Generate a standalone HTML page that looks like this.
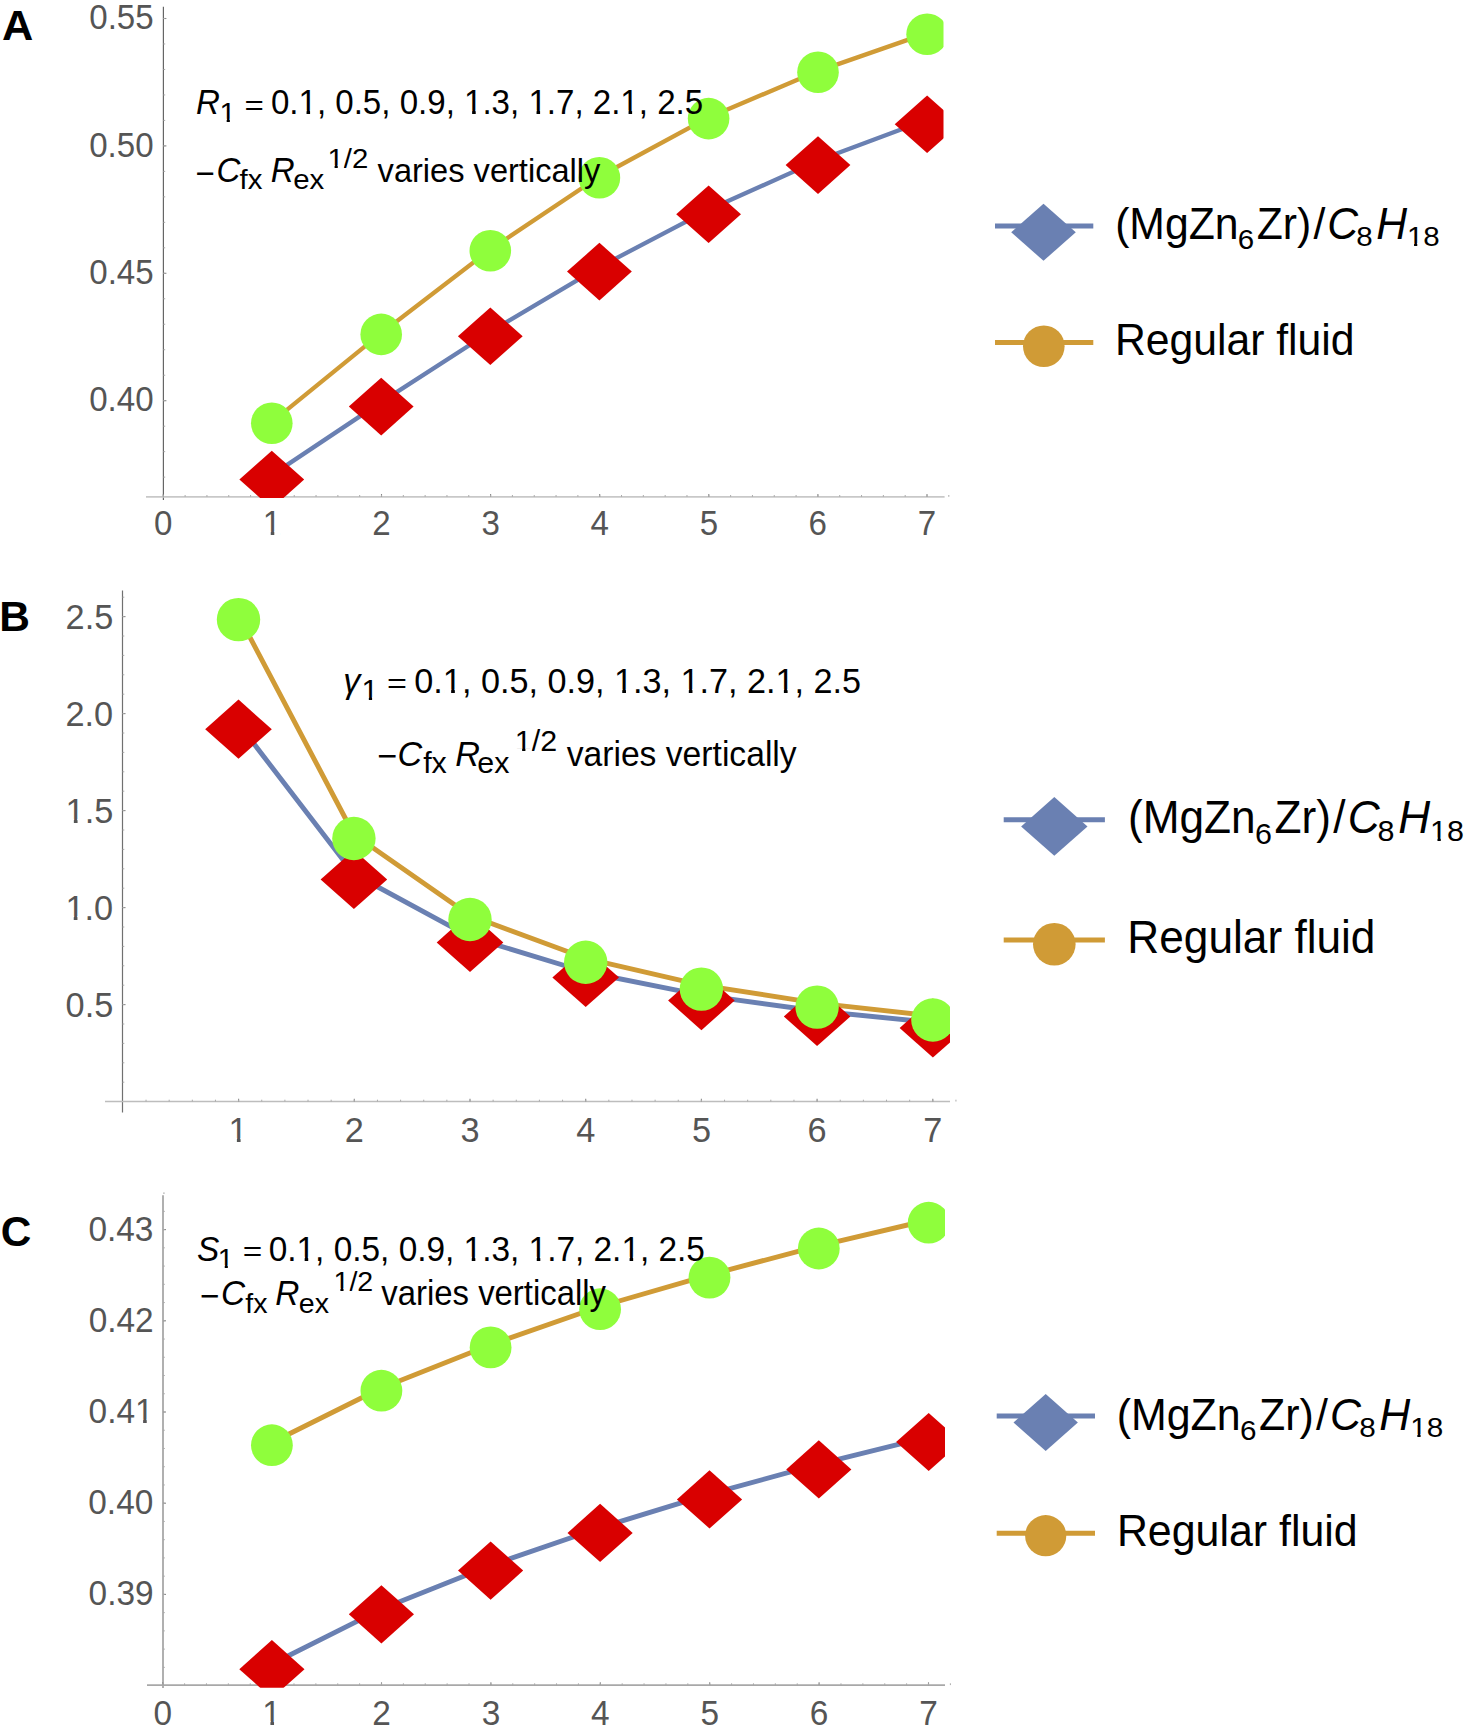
<!DOCTYPE html><html><head><meta charset="utf-8"><title>Figure</title><style>html,body{margin:0;padding:0;background:#fff;}svg{display:block;}</style></head><body><svg width="1470" height="1728" viewBox="0 0 1470 1728" font-family="'Liberation Sans', Arial, sans-serif">
<rect width="1470" height="1728" fill="#fff"/>
<line x1="163.4" y1="6.8" x2="163.4" y2="500" stroke="#666" stroke-width="1.2"/>
<line x1="146" y1="496.8" x2="944.6" y2="496.8" stroke="#c8c8c8" stroke-width="1.8"/>
<line x1="163.4" y1="400.7" x2="166.4" y2="400.7" stroke="#888" stroke-width="1.1"/>
<text transform="translate(89.17 411.3) scale(1 1.04)" font-size="33.1" fill="#555555">0.40</text>
<line x1="163.4" y1="273.3" x2="166.4" y2="273.3" stroke="#888" stroke-width="1.1"/>
<text transform="translate(89.27 283.9) scale(1 1.04)" font-size="33.1" fill="#555555">0.45</text>
<line x1="163.4" y1="145.9" x2="166.4" y2="145.9" stroke="#888" stroke-width="1.1"/>
<text transform="translate(89.17 156.5) scale(1 1.04)" font-size="33.1" fill="#555555">0.50</text>
<line x1="163.4" y1="18.5" x2="166.4" y2="18.5" stroke="#888" stroke-width="1.1"/>
<text transform="translate(89.27 29.1) scale(1 1.04)" font-size="33.1" fill="#555555">0.55</text>
<line x1="163.4" y1="477.14" x2="165.2" y2="477.14" stroke="#aaa" stroke-width="1"/>
<line x1="163.4" y1="451.66" x2="165.2" y2="451.66" stroke="#aaa" stroke-width="1"/>
<line x1="163.4" y1="426.18" x2="165.2" y2="426.18" stroke="#aaa" stroke-width="1"/>
<line x1="163.4" y1="400.7" x2="165.2" y2="400.7" stroke="#aaa" stroke-width="1"/>
<line x1="163.4" y1="375.22" x2="165.2" y2="375.22" stroke="#aaa" stroke-width="1"/>
<line x1="163.4" y1="349.74" x2="165.2" y2="349.74" stroke="#aaa" stroke-width="1"/>
<line x1="163.4" y1="324.26" x2="165.2" y2="324.26" stroke="#aaa" stroke-width="1"/>
<line x1="163.4" y1="298.78" x2="165.2" y2="298.78" stroke="#aaa" stroke-width="1"/>
<line x1="163.4" y1="273.3" x2="165.2" y2="273.3" stroke="#aaa" stroke-width="1"/>
<line x1="163.4" y1="247.82" x2="165.2" y2="247.82" stroke="#aaa" stroke-width="1"/>
<line x1="163.4" y1="222.34" x2="165.2" y2="222.34" stroke="#aaa" stroke-width="1"/>
<line x1="163.4" y1="196.86" x2="165.2" y2="196.86" stroke="#aaa" stroke-width="1"/>
<line x1="163.4" y1="171.38" x2="165.2" y2="171.38" stroke="#aaa" stroke-width="1"/>
<line x1="163.4" y1="145.9" x2="165.2" y2="145.9" stroke="#aaa" stroke-width="1"/>
<line x1="163.4" y1="120.42" x2="165.2" y2="120.42" stroke="#aaa" stroke-width="1"/>
<line x1="163.4" y1="94.94" x2="165.2" y2="94.94" stroke="#aaa" stroke-width="1"/>
<line x1="163.4" y1="69.46" x2="165.2" y2="69.46" stroke="#aaa" stroke-width="1"/>
<line x1="163.4" y1="43.98" x2="165.2" y2="43.98" stroke="#aaa" stroke-width="1"/>
<line x1="163.4" y1="18.5" x2="165.2" y2="18.5" stroke="#aaa" stroke-width="1"/>
<line x1="163.3" y1="496.8" x2="163.3" y2="494" stroke="#888" stroke-width="1.1"/>
<text transform="translate(154.1 535) scale(1 1.04)" font-size="33.1" fill="#555555">0</text>
<line x1="272.4" y1="496.8" x2="272.4" y2="494" stroke="#888" stroke-width="1.1"/>
<clipPath id="f1"><path clip-rule="evenodd" d="M-5 -39.72H23.41V16.55H-5ZM1.32 -3.47H8V1.5H1.32ZM11.57 -3.47H17.99V1.5H11.57Z"/></clipPath>
<text transform="translate(262.74 535) scale(1 1.04)" font-size="33.1" fill="#555555" clip-path="url(#f1)">1</text>
<line x1="381.5" y1="496.8" x2="381.5" y2="494" stroke="#888" stroke-width="1.1"/>
<text transform="translate(372.3 535) scale(1 1.04)" font-size="33.1" fill="#555555">2</text>
<line x1="490.6" y1="496.8" x2="490.6" y2="494" stroke="#888" stroke-width="1.1"/>
<text transform="translate(481.49 535) scale(1 1.04)" font-size="33.1" fill="#555555">3</text>
<line x1="599.7" y1="496.8" x2="599.7" y2="494" stroke="#888" stroke-width="1.1"/>
<text transform="translate(590.6 535) scale(1 1.04)" font-size="33.1" fill="#555555">4</text>
<line x1="708.8" y1="496.8" x2="708.8" y2="494" stroke="#888" stroke-width="1.1"/>
<text transform="translate(699.63 535) scale(1 1.04)" font-size="33.1" fill="#555555">5</text>
<line x1="817.9" y1="496.8" x2="817.9" y2="494" stroke="#888" stroke-width="1.1"/>
<text transform="translate(808.58 535) scale(1 1.04)" font-size="33.1" fill="#555555">6</text>
<line x1="927" y1="496.8" x2="927" y2="494" stroke="#888" stroke-width="1.1"/>
<text transform="translate(917.78 535) scale(1 1.04)" font-size="33.1" fill="#555555">7</text>
<line x1="163.3" y1="496.8" x2="163.3" y2="495" stroke="#aaa" stroke-width="1"/>
<line x1="185.12" y1="496.8" x2="185.12" y2="495" stroke="#aaa" stroke-width="1"/>
<line x1="206.94" y1="496.8" x2="206.94" y2="495" stroke="#aaa" stroke-width="1"/>
<line x1="228.76" y1="496.8" x2="228.76" y2="495" stroke="#aaa" stroke-width="1"/>
<line x1="250.58" y1="496.8" x2="250.58" y2="495" stroke="#aaa" stroke-width="1"/>
<line x1="272.4" y1="496.8" x2="272.4" y2="495" stroke="#aaa" stroke-width="1"/>
<line x1="294.22" y1="496.8" x2="294.22" y2="495" stroke="#aaa" stroke-width="1"/>
<line x1="316.04" y1="496.8" x2="316.04" y2="495" stroke="#aaa" stroke-width="1"/>
<line x1="337.86" y1="496.8" x2="337.86" y2="495" stroke="#aaa" stroke-width="1"/>
<line x1="359.68" y1="496.8" x2="359.68" y2="495" stroke="#aaa" stroke-width="1"/>
<line x1="381.5" y1="496.8" x2="381.5" y2="495" stroke="#aaa" stroke-width="1"/>
<line x1="403.32" y1="496.8" x2="403.32" y2="495" stroke="#aaa" stroke-width="1"/>
<line x1="425.14" y1="496.8" x2="425.14" y2="495" stroke="#aaa" stroke-width="1"/>
<line x1="446.96" y1="496.8" x2="446.96" y2="495" stroke="#aaa" stroke-width="1"/>
<line x1="468.78" y1="496.8" x2="468.78" y2="495" stroke="#aaa" stroke-width="1"/>
<line x1="490.6" y1="496.8" x2="490.6" y2="495" stroke="#aaa" stroke-width="1"/>
<line x1="512.42" y1="496.8" x2="512.42" y2="495" stroke="#aaa" stroke-width="1"/>
<line x1="534.24" y1="496.8" x2="534.24" y2="495" stroke="#aaa" stroke-width="1"/>
<line x1="556.06" y1="496.8" x2="556.06" y2="495" stroke="#aaa" stroke-width="1"/>
<line x1="577.88" y1="496.8" x2="577.88" y2="495" stroke="#aaa" stroke-width="1"/>
<line x1="599.7" y1="496.8" x2="599.7" y2="495" stroke="#aaa" stroke-width="1"/>
<line x1="621.52" y1="496.8" x2="621.52" y2="495" stroke="#aaa" stroke-width="1"/>
<line x1="643.34" y1="496.8" x2="643.34" y2="495" stroke="#aaa" stroke-width="1"/>
<line x1="665.16" y1="496.8" x2="665.16" y2="495" stroke="#aaa" stroke-width="1"/>
<line x1="686.98" y1="496.8" x2="686.98" y2="495" stroke="#aaa" stroke-width="1"/>
<line x1="708.8" y1="496.8" x2="708.8" y2="495" stroke="#aaa" stroke-width="1"/>
<line x1="730.62" y1="496.8" x2="730.62" y2="495" stroke="#aaa" stroke-width="1"/>
<line x1="752.44" y1="496.8" x2="752.44" y2="495" stroke="#aaa" stroke-width="1"/>
<line x1="774.26" y1="496.8" x2="774.26" y2="495" stroke="#aaa" stroke-width="1"/>
<line x1="796.08" y1="496.8" x2="796.08" y2="495" stroke="#aaa" stroke-width="1"/>
<line x1="817.9" y1="496.8" x2="817.9" y2="495" stroke="#aaa" stroke-width="1"/>
<line x1="839.72" y1="496.8" x2="839.72" y2="495" stroke="#aaa" stroke-width="1"/>
<line x1="861.54" y1="496.8" x2="861.54" y2="495" stroke="#aaa" stroke-width="1"/>
<line x1="883.36" y1="496.8" x2="883.36" y2="495" stroke="#aaa" stroke-width="1"/>
<line x1="905.18" y1="496.8" x2="905.18" y2="495" stroke="#aaa" stroke-width="1"/>
<line x1="927" y1="496.8" x2="927" y2="495" stroke="#aaa" stroke-width="1"/>
<line x1="948.82" y1="496.8" x2="948.82" y2="495" stroke="#aaa" stroke-width="1"/>
<clipPath id="cA"><rect x="0" y="0" width="943.5" height="498"/></clipPath>
<g clip-path="url(#cA)">
<polyline points="271.8,475.1 381.2,402.1 490.3,331.8 599.4,267.1 708.6,209.8 818,160.6 927.1,119.8" fill="none" stroke="#6a80b2" stroke-width="4.3" stroke-linejoin="round"/>
<polyline points="271.8,422.1 381.2,333.2 490.3,249.5 599.4,176.5 708.6,117.4 818,71.1 927.1,33.1" fill="none" stroke="#d09b36" stroke-width="4.3" stroke-linejoin="round"/>
<path d="M271.8 450.8L304.2 479.6L271.8 508.4L239.4 479.6Z" fill="#d90000"/>
<path d="M381.2 377.8L413.6 406.6L381.2 435.4L348.8 406.6Z" fill="#d90000"/>
<path d="M490.3 307.5L522.7 336.3L490.3 365.1L457.9 336.3Z" fill="#d90000"/>
<path d="M599.4 242.8L631.8 271.6L599.4 300.4L567 271.6Z" fill="#d90000"/>
<path d="M708.6 185.5L741 214.3L708.6 243.1L676.2 214.3Z" fill="#d90000"/>
<path d="M818 136.3L850.4 165.1L818 193.9L785.6 165.1Z" fill="#d90000"/>
<path d="M927.1 95.5L959.5 124.3L927.1 153.1L894.7 124.3Z" fill="#d90000"/>
<circle cx="271.8" cy="423.3" r="20.8" fill="#8ffe3c"/>
<circle cx="381.2" cy="334.4" r="20.8" fill="#8ffe3c"/>
<circle cx="490.3" cy="250.7" r="20.8" fill="#8ffe3c"/>
<circle cx="599.4" cy="177.7" r="20.8" fill="#8ffe3c"/>
<circle cx="708.6" cy="118.6" r="20.8" fill="#8ffe3c"/>
<circle cx="818" cy="72.3" r="20.8" fill="#8ffe3c"/>
<circle cx="927.1" cy="34.3" r="20.8" fill="#8ffe3c"/>
</g>
<line x1="122.5" y1="590.4" x2="122.5" y2="1112.5" stroke="#707070" stroke-width="1.2"/>
<line x1="105" y1="1101.5" x2="950" y2="1101.5" stroke="#bdbdbd" stroke-width="1.7"/>
<line x1="122.5" y1="1004.6" x2="125.5" y2="1004.6" stroke="#888" stroke-width="1.1"/>
<text transform="translate(65.56 1016.6) scale(1 1.04)" font-size="34.3" fill="#555555">0.5</text>
<line x1="122.5" y1="907.6" x2="125.5" y2="907.6" stroke="#888" stroke-width="1.1"/>
<clipPath id="f2"><path clip-rule="evenodd" d="M-5 -41.16H52.68V17.15H-5ZM1.41 -3.56H8.29V1.5H1.41ZM11.99 -3.56H18.6V1.5H11.99Z"/></clipPath>
<text transform="translate(65.46 919.6) scale(1 1.04)" font-size="34.3" fill="#555555" clip-path="url(#f2)">1.0</text>
<line x1="122.5" y1="810.6" x2="125.5" y2="810.6" stroke="#888" stroke-width="1.1"/>
<clipPath id="f3"><path clip-rule="evenodd" d="M-5 -41.16H52.68V17.15H-5ZM1.41 -3.56H8.29V1.5H1.41ZM11.99 -3.56H18.6V1.5H11.99Z"/></clipPath>
<text transform="translate(65.56 822.6) scale(1 1.04)" font-size="34.3" fill="#555555" clip-path="url(#f3)">1.5</text>
<line x1="122.5" y1="713.6" x2="125.5" y2="713.6" stroke="#888" stroke-width="1.1"/>
<text transform="translate(65.46 725.6) scale(1 1.04)" font-size="34.3" fill="#555555">2.0</text>
<line x1="122.5" y1="616.6" x2="125.5" y2="616.6" stroke="#888" stroke-width="1.1"/>
<text transform="translate(65.56 628.6) scale(1 1.04)" font-size="34.3" fill="#555555">2.5</text>
<line x1="122.5" y1="1082.2" x2="124.3" y2="1082.2" stroke="#aaa" stroke-width="1"/>
<line x1="122.5" y1="1062.8" x2="124.3" y2="1062.8" stroke="#aaa" stroke-width="1"/>
<line x1="122.5" y1="1043.4" x2="124.3" y2="1043.4" stroke="#aaa" stroke-width="1"/>
<line x1="122.5" y1="1024" x2="124.3" y2="1024" stroke="#aaa" stroke-width="1"/>
<line x1="122.5" y1="1004.6" x2="124.3" y2="1004.6" stroke="#aaa" stroke-width="1"/>
<line x1="122.5" y1="985.2" x2="124.3" y2="985.2" stroke="#aaa" stroke-width="1"/>
<line x1="122.5" y1="965.8" x2="124.3" y2="965.8" stroke="#aaa" stroke-width="1"/>
<line x1="122.5" y1="946.4" x2="124.3" y2="946.4" stroke="#aaa" stroke-width="1"/>
<line x1="122.5" y1="927" x2="124.3" y2="927" stroke="#aaa" stroke-width="1"/>
<line x1="122.5" y1="907.6" x2="124.3" y2="907.6" stroke="#aaa" stroke-width="1"/>
<line x1="122.5" y1="888.2" x2="124.3" y2="888.2" stroke="#aaa" stroke-width="1"/>
<line x1="122.5" y1="868.8" x2="124.3" y2="868.8" stroke="#aaa" stroke-width="1"/>
<line x1="122.5" y1="849.4" x2="124.3" y2="849.4" stroke="#aaa" stroke-width="1"/>
<line x1="122.5" y1="830" x2="124.3" y2="830" stroke="#aaa" stroke-width="1"/>
<line x1="122.5" y1="810.6" x2="124.3" y2="810.6" stroke="#aaa" stroke-width="1"/>
<line x1="122.5" y1="791.2" x2="124.3" y2="791.2" stroke="#aaa" stroke-width="1"/>
<line x1="122.5" y1="771.8" x2="124.3" y2="771.8" stroke="#aaa" stroke-width="1"/>
<line x1="122.5" y1="752.4" x2="124.3" y2="752.4" stroke="#aaa" stroke-width="1"/>
<line x1="122.5" y1="733" x2="124.3" y2="733" stroke="#aaa" stroke-width="1"/>
<line x1="122.5" y1="713.6" x2="124.3" y2="713.6" stroke="#aaa" stroke-width="1"/>
<line x1="122.5" y1="694.2" x2="124.3" y2="694.2" stroke="#aaa" stroke-width="1"/>
<line x1="122.5" y1="674.8" x2="124.3" y2="674.8" stroke="#aaa" stroke-width="1"/>
<line x1="122.5" y1="655.4" x2="124.3" y2="655.4" stroke="#aaa" stroke-width="1"/>
<line x1="122.5" y1="636" x2="124.3" y2="636" stroke="#aaa" stroke-width="1"/>
<line x1="122.5" y1="616.6" x2="124.3" y2="616.6" stroke="#aaa" stroke-width="1"/>
<line x1="122.5" y1="597.2" x2="124.3" y2="597.2" stroke="#aaa" stroke-width="1"/>
<line x1="238.6" y1="1101.5" x2="238.6" y2="1098.7" stroke="#888" stroke-width="1.1"/>
<clipPath id="f4"><path clip-rule="evenodd" d="M-5 -41.16H24.08V17.15H-5ZM1.41 -3.56H8.29V1.5H1.41ZM11.99 -3.56H18.6V1.5H11.99Z"/></clipPath>
<text transform="translate(228.59 1141.6) scale(1 1.04)" font-size="34.3" fill="#555555" clip-path="url(#f4)">1</text>
<line x1="354.3" y1="1101.5" x2="354.3" y2="1098.7" stroke="#888" stroke-width="1.1"/>
<text transform="translate(344.76 1141.6) scale(1 1.04)" font-size="34.3" fill="#555555">2</text>
<line x1="470" y1="1101.5" x2="470" y2="1098.7" stroke="#888" stroke-width="1.1"/>
<text transform="translate(460.56 1141.6) scale(1 1.04)" font-size="34.3" fill="#555555">3</text>
<line x1="585.7" y1="1101.5" x2="585.7" y2="1098.7" stroke="#888" stroke-width="1.1"/>
<text transform="translate(576.27 1141.6) scale(1 1.04)" font-size="34.3" fill="#555555">4</text>
<line x1="701.4" y1="1101.5" x2="701.4" y2="1098.7" stroke="#888" stroke-width="1.1"/>
<text transform="translate(691.9 1141.6) scale(1 1.04)" font-size="34.3" fill="#555555">5</text>
<line x1="817.1" y1="1101.5" x2="817.1" y2="1098.7" stroke="#888" stroke-width="1.1"/>
<text transform="translate(807.44 1141.6) scale(1 1.04)" font-size="34.3" fill="#555555">6</text>
<line x1="932.8" y1="1101.5" x2="932.8" y2="1098.7" stroke="#888" stroke-width="1.1"/>
<text transform="translate(923.25 1141.6) scale(1 1.04)" font-size="34.3" fill="#555555">7</text>
<line x1="146.04" y1="1101.5" x2="146.04" y2="1099.7" stroke="#aaa" stroke-width="1"/>
<line x1="169.18" y1="1101.5" x2="169.18" y2="1099.7" stroke="#aaa" stroke-width="1"/>
<line x1="192.32" y1="1101.5" x2="192.32" y2="1099.7" stroke="#aaa" stroke-width="1"/>
<line x1="215.46" y1="1101.5" x2="215.46" y2="1099.7" stroke="#aaa" stroke-width="1"/>
<line x1="238.6" y1="1101.5" x2="238.6" y2="1099.7" stroke="#aaa" stroke-width="1"/>
<line x1="261.74" y1="1101.5" x2="261.74" y2="1099.7" stroke="#aaa" stroke-width="1"/>
<line x1="284.88" y1="1101.5" x2="284.88" y2="1099.7" stroke="#aaa" stroke-width="1"/>
<line x1="308.02" y1="1101.5" x2="308.02" y2="1099.7" stroke="#aaa" stroke-width="1"/>
<line x1="331.16" y1="1101.5" x2="331.16" y2="1099.7" stroke="#aaa" stroke-width="1"/>
<line x1="354.3" y1="1101.5" x2="354.3" y2="1099.7" stroke="#aaa" stroke-width="1"/>
<line x1="377.44" y1="1101.5" x2="377.44" y2="1099.7" stroke="#aaa" stroke-width="1"/>
<line x1="400.58" y1="1101.5" x2="400.58" y2="1099.7" stroke="#aaa" stroke-width="1"/>
<line x1="423.72" y1="1101.5" x2="423.72" y2="1099.7" stroke="#aaa" stroke-width="1"/>
<line x1="446.86" y1="1101.5" x2="446.86" y2="1099.7" stroke="#aaa" stroke-width="1"/>
<line x1="470" y1="1101.5" x2="470" y2="1099.7" stroke="#aaa" stroke-width="1"/>
<line x1="493.14" y1="1101.5" x2="493.14" y2="1099.7" stroke="#aaa" stroke-width="1"/>
<line x1="516.28" y1="1101.5" x2="516.28" y2="1099.7" stroke="#aaa" stroke-width="1"/>
<line x1="539.42" y1="1101.5" x2="539.42" y2="1099.7" stroke="#aaa" stroke-width="1"/>
<line x1="562.56" y1="1101.5" x2="562.56" y2="1099.7" stroke="#aaa" stroke-width="1"/>
<line x1="585.7" y1="1101.5" x2="585.7" y2="1099.7" stroke="#aaa" stroke-width="1"/>
<line x1="608.84" y1="1101.5" x2="608.84" y2="1099.7" stroke="#aaa" stroke-width="1"/>
<line x1="631.98" y1="1101.5" x2="631.98" y2="1099.7" stroke="#aaa" stroke-width="1"/>
<line x1="655.12" y1="1101.5" x2="655.12" y2="1099.7" stroke="#aaa" stroke-width="1"/>
<line x1="678.26" y1="1101.5" x2="678.26" y2="1099.7" stroke="#aaa" stroke-width="1"/>
<line x1="701.4" y1="1101.5" x2="701.4" y2="1099.7" stroke="#aaa" stroke-width="1"/>
<line x1="724.54" y1="1101.5" x2="724.54" y2="1099.7" stroke="#aaa" stroke-width="1"/>
<line x1="747.68" y1="1101.5" x2="747.68" y2="1099.7" stroke="#aaa" stroke-width="1"/>
<line x1="770.82" y1="1101.5" x2="770.82" y2="1099.7" stroke="#aaa" stroke-width="1"/>
<line x1="793.96" y1="1101.5" x2="793.96" y2="1099.7" stroke="#aaa" stroke-width="1"/>
<line x1="817.1" y1="1101.5" x2="817.1" y2="1099.7" stroke="#aaa" stroke-width="1"/>
<line x1="840.24" y1="1101.5" x2="840.24" y2="1099.7" stroke="#aaa" stroke-width="1"/>
<line x1="863.38" y1="1101.5" x2="863.38" y2="1099.7" stroke="#aaa" stroke-width="1"/>
<line x1="886.52" y1="1101.5" x2="886.52" y2="1099.7" stroke="#aaa" stroke-width="1"/>
<line x1="909.66" y1="1101.5" x2="909.66" y2="1099.7" stroke="#aaa" stroke-width="1"/>
<line x1="932.8" y1="1101.5" x2="932.8" y2="1099.7" stroke="#aaa" stroke-width="1"/>
<line x1="955.94" y1="1101.5" x2="955.94" y2="1099.7" stroke="#aaa" stroke-width="1"/>
<clipPath id="cB"><rect x="0" y="560" width="950" height="553"/></clipPath>
<g clip-path="url(#cB)">
<polyline points="238.5,723.7 353.9,874 470,936.9 585.7,972 701.4,995.1 817.1,1011 932.9,1022.5" fill="none" stroke="#6a80b2" stroke-width="4.9" stroke-linejoin="round"/>
<polyline points="238.5,615.6 353.9,834.5 470,915.5 585.7,958.3 701.4,985.1 817.1,1003.1 932.9,1016" fill="none" stroke="#d09b36" stroke-width="4.9" stroke-linejoin="round"/>
<path d="M238.5 699.6L271.8 729.2L238.5 758.8L205.2 729.2Z" fill="#d90000"/>
<path d="M353.9 849.9L387.2 879.5L353.9 909.1L320.6 879.5Z" fill="#d90000"/>
<path d="M470 912.8L503.3 942.4L470 972L436.7 942.4Z" fill="#d90000"/>
<path d="M585.7 947.9L619 977.5L585.7 1007.1L552.4 977.5Z" fill="#d90000"/>
<path d="M701.4 971L734.7 1000.6L701.4 1030.2L668.1 1000.6Z" fill="#d90000"/>
<path d="M817.1 986.9L850.4 1016.5L817.1 1046.1L783.8 1016.5Z" fill="#d90000"/>
<path d="M932.9 998.4L966.2 1028L932.9 1057.6L899.6 1028Z" fill="#d90000"/>
<circle cx="238.5" cy="619.6" r="21.7" fill="#8ffe3c"/>
<circle cx="353.9" cy="838.5" r="21.7" fill="#8ffe3c"/>
<circle cx="470" cy="919.5" r="21.7" fill="#8ffe3c"/>
<circle cx="585.7" cy="962.3" r="21.7" fill="#8ffe3c"/>
<circle cx="701.4" cy="989.1" r="21.7" fill="#8ffe3c"/>
<circle cx="817.1" cy="1007.1" r="21.7" fill="#8ffe3c"/>
<circle cx="932.9" cy="1020" r="21.7" fill="#8ffe3c"/>
</g>
<line x1="163" y1="1195.3" x2="163" y2="1688" stroke="#a8a8a8" stroke-width="1.8"/>
<line x1="147" y1="1685.1" x2="945" y2="1685.1" stroke="#a8a8a8" stroke-width="1.8"/>
<line x1="163" y1="1594.4" x2="166" y2="1594.4" stroke="#888" stroke-width="1.1"/>
<text transform="translate(88.58 1605.3) scale(1 1.04)" font-size="33.4" fill="#555555">0.39</text>
<line x1="163" y1="1503.2" x2="166" y2="1503.2" stroke="#888" stroke-width="1.1"/>
<text transform="translate(88.3 1514.1) scale(1 1.04)" font-size="33.4" fill="#555555">0.40</text>
<line x1="163" y1="1412" x2="166" y2="1412" stroke="#888" stroke-width="1.1"/>
<clipPath id="f5"><path clip-rule="evenodd" d="M-5 -40.08H70.01V16.7H-5ZM47.77 -3.5H54.5V1.5H47.77ZM58.11 -3.5H64.58V1.5H58.11Z"/></clipPath>
<text transform="translate(88.62 1422.9) scale(1 1.04)" font-size="33.4" fill="#555555" clip-path="url(#f5)">0.41</text>
<line x1="163" y1="1320.8" x2="166" y2="1320.8" stroke="#888" stroke-width="1.1"/>
<text transform="translate(88.67 1331.7) scale(1 1.04)" font-size="33.4" fill="#555555">0.42</text>
<line x1="163" y1="1229.6" x2="166" y2="1229.6" stroke="#888" stroke-width="1.1"/>
<text transform="translate(88.46 1240.5) scale(1 1.04)" font-size="33.4" fill="#555555">0.43</text>
<line x1="163" y1="1667.36" x2="164.8" y2="1667.36" stroke="#aaa" stroke-width="1"/>
<line x1="163" y1="1649.12" x2="164.8" y2="1649.12" stroke="#aaa" stroke-width="1"/>
<line x1="163" y1="1630.88" x2="164.8" y2="1630.88" stroke="#aaa" stroke-width="1"/>
<line x1="163" y1="1612.64" x2="164.8" y2="1612.64" stroke="#aaa" stroke-width="1"/>
<line x1="163" y1="1594.4" x2="164.8" y2="1594.4" stroke="#aaa" stroke-width="1"/>
<line x1="163" y1="1576.16" x2="164.8" y2="1576.16" stroke="#aaa" stroke-width="1"/>
<line x1="163" y1="1557.92" x2="164.8" y2="1557.92" stroke="#aaa" stroke-width="1"/>
<line x1="163" y1="1539.68" x2="164.8" y2="1539.68" stroke="#aaa" stroke-width="1"/>
<line x1="163" y1="1521.44" x2="164.8" y2="1521.44" stroke="#aaa" stroke-width="1"/>
<line x1="163" y1="1503.2" x2="164.8" y2="1503.2" stroke="#aaa" stroke-width="1"/>
<line x1="163" y1="1484.96" x2="164.8" y2="1484.96" stroke="#aaa" stroke-width="1"/>
<line x1="163" y1="1466.72" x2="164.8" y2="1466.72" stroke="#aaa" stroke-width="1"/>
<line x1="163" y1="1448.48" x2="164.8" y2="1448.48" stroke="#aaa" stroke-width="1"/>
<line x1="163" y1="1430.24" x2="164.8" y2="1430.24" stroke="#aaa" stroke-width="1"/>
<line x1="163" y1="1412" x2="164.8" y2="1412" stroke="#aaa" stroke-width="1"/>
<line x1="163" y1="1393.76" x2="164.8" y2="1393.76" stroke="#aaa" stroke-width="1"/>
<line x1="163" y1="1375.52" x2="164.8" y2="1375.52" stroke="#aaa" stroke-width="1"/>
<line x1="163" y1="1357.28" x2="164.8" y2="1357.28" stroke="#aaa" stroke-width="1"/>
<line x1="163" y1="1339.04" x2="164.8" y2="1339.04" stroke="#aaa" stroke-width="1"/>
<line x1="163" y1="1320.8" x2="164.8" y2="1320.8" stroke="#aaa" stroke-width="1"/>
<line x1="163" y1="1302.56" x2="164.8" y2="1302.56" stroke="#aaa" stroke-width="1"/>
<line x1="163" y1="1284.32" x2="164.8" y2="1284.32" stroke="#aaa" stroke-width="1"/>
<line x1="163" y1="1266.08" x2="164.8" y2="1266.08" stroke="#aaa" stroke-width="1"/>
<line x1="163" y1="1247.84" x2="164.8" y2="1247.84" stroke="#aaa" stroke-width="1"/>
<line x1="163" y1="1229.6" x2="164.8" y2="1229.6" stroke="#aaa" stroke-width="1"/>
<line x1="163" y1="1211.36" x2="164.8" y2="1211.36" stroke="#aaa" stroke-width="1"/>
<line x1="163" y1="1193.12" x2="164.8" y2="1193.12" stroke="#aaa" stroke-width="1"/>
<line x1="162.7" y1="1685.1" x2="162.7" y2="1682.3" stroke="#888" stroke-width="1.1"/>
<text transform="translate(153.41 1724.6) scale(1 1.04)" font-size="33.4" fill="#555555">0</text>
<line x1="272.1" y1="1685.1" x2="272.1" y2="1682.3" stroke="#888" stroke-width="1.1"/>
<clipPath id="f6"><path clip-rule="evenodd" d="M-5 -40.08H23.58V16.7H-5ZM1.34 -3.5H8.07V1.5H1.34ZM11.68 -3.5H18.14V1.5H11.68Z"/></clipPath>
<text transform="translate(262.36 1724.6) scale(1 1.04)" font-size="33.4" fill="#555555" clip-path="url(#f6)">1</text>
<line x1="381.5" y1="1685.1" x2="381.5" y2="1682.3" stroke="#888" stroke-width="1.1"/>
<text transform="translate(372.21 1724.6) scale(1 1.04)" font-size="33.4" fill="#555555">2</text>
<line x1="490.9" y1="1685.1" x2="490.9" y2="1682.3" stroke="#888" stroke-width="1.1"/>
<text transform="translate(481.71 1724.6) scale(1 1.04)" font-size="33.4" fill="#555555">3</text>
<line x1="600.3" y1="1685.1" x2="600.3" y2="1682.3" stroke="#888" stroke-width="1.1"/>
<text transform="translate(591.12 1724.6) scale(1 1.04)" font-size="33.4" fill="#555555">4</text>
<line x1="709.7" y1="1685.1" x2="709.7" y2="1682.3" stroke="#888" stroke-width="1.1"/>
<text transform="translate(700.44 1724.6) scale(1 1.04)" font-size="33.4" fill="#555555">5</text>
<line x1="819.1" y1="1685.1" x2="819.1" y2="1682.3" stroke="#888" stroke-width="1.1"/>
<text transform="translate(809.7 1724.6) scale(1 1.04)" font-size="33.4" fill="#555555">6</text>
<line x1="928.5" y1="1685.1" x2="928.5" y2="1682.3" stroke="#888" stroke-width="1.1"/>
<text transform="translate(919.2 1724.6) scale(1 1.04)" font-size="33.4" fill="#555555">7</text>
<line x1="162.7" y1="1685.1" x2="162.7" y2="1683.3" stroke="#aaa" stroke-width="1"/>
<line x1="184.58" y1="1685.1" x2="184.58" y2="1683.3" stroke="#aaa" stroke-width="1"/>
<line x1="206.46" y1="1685.1" x2="206.46" y2="1683.3" stroke="#aaa" stroke-width="1"/>
<line x1="228.34" y1="1685.1" x2="228.34" y2="1683.3" stroke="#aaa" stroke-width="1"/>
<line x1="250.22" y1="1685.1" x2="250.22" y2="1683.3" stroke="#aaa" stroke-width="1"/>
<line x1="272.1" y1="1685.1" x2="272.1" y2="1683.3" stroke="#aaa" stroke-width="1"/>
<line x1="293.98" y1="1685.1" x2="293.98" y2="1683.3" stroke="#aaa" stroke-width="1"/>
<line x1="315.86" y1="1685.1" x2="315.86" y2="1683.3" stroke="#aaa" stroke-width="1"/>
<line x1="337.74" y1="1685.1" x2="337.74" y2="1683.3" stroke="#aaa" stroke-width="1"/>
<line x1="359.62" y1="1685.1" x2="359.62" y2="1683.3" stroke="#aaa" stroke-width="1"/>
<line x1="381.5" y1="1685.1" x2="381.5" y2="1683.3" stroke="#aaa" stroke-width="1"/>
<line x1="403.38" y1="1685.1" x2="403.38" y2="1683.3" stroke="#aaa" stroke-width="1"/>
<line x1="425.26" y1="1685.1" x2="425.26" y2="1683.3" stroke="#aaa" stroke-width="1"/>
<line x1="447.14" y1="1685.1" x2="447.14" y2="1683.3" stroke="#aaa" stroke-width="1"/>
<line x1="469.02" y1="1685.1" x2="469.02" y2="1683.3" stroke="#aaa" stroke-width="1"/>
<line x1="490.9" y1="1685.1" x2="490.9" y2="1683.3" stroke="#aaa" stroke-width="1"/>
<line x1="512.78" y1="1685.1" x2="512.78" y2="1683.3" stroke="#aaa" stroke-width="1"/>
<line x1="534.66" y1="1685.1" x2="534.66" y2="1683.3" stroke="#aaa" stroke-width="1"/>
<line x1="556.54" y1="1685.1" x2="556.54" y2="1683.3" stroke="#aaa" stroke-width="1"/>
<line x1="578.42" y1="1685.1" x2="578.42" y2="1683.3" stroke="#aaa" stroke-width="1"/>
<line x1="600.3" y1="1685.1" x2="600.3" y2="1683.3" stroke="#aaa" stroke-width="1"/>
<line x1="622.18" y1="1685.1" x2="622.18" y2="1683.3" stroke="#aaa" stroke-width="1"/>
<line x1="644.06" y1="1685.1" x2="644.06" y2="1683.3" stroke="#aaa" stroke-width="1"/>
<line x1="665.94" y1="1685.1" x2="665.94" y2="1683.3" stroke="#aaa" stroke-width="1"/>
<line x1="687.82" y1="1685.1" x2="687.82" y2="1683.3" stroke="#aaa" stroke-width="1"/>
<line x1="709.7" y1="1685.1" x2="709.7" y2="1683.3" stroke="#aaa" stroke-width="1"/>
<line x1="731.58" y1="1685.1" x2="731.58" y2="1683.3" stroke="#aaa" stroke-width="1"/>
<line x1="753.46" y1="1685.1" x2="753.46" y2="1683.3" stroke="#aaa" stroke-width="1"/>
<line x1="775.34" y1="1685.1" x2="775.34" y2="1683.3" stroke="#aaa" stroke-width="1"/>
<line x1="797.22" y1="1685.1" x2="797.22" y2="1683.3" stroke="#aaa" stroke-width="1"/>
<line x1="819.1" y1="1685.1" x2="819.1" y2="1683.3" stroke="#aaa" stroke-width="1"/>
<line x1="840.98" y1="1685.1" x2="840.98" y2="1683.3" stroke="#aaa" stroke-width="1"/>
<line x1="862.86" y1="1685.1" x2="862.86" y2="1683.3" stroke="#aaa" stroke-width="1"/>
<line x1="884.74" y1="1685.1" x2="884.74" y2="1683.3" stroke="#aaa" stroke-width="1"/>
<line x1="906.62" y1="1685.1" x2="906.62" y2="1683.3" stroke="#aaa" stroke-width="1"/>
<line x1="928.5" y1="1685.1" x2="928.5" y2="1683.3" stroke="#aaa" stroke-width="1"/>
<line x1="950.38" y1="1685.1" x2="950.38" y2="1683.3" stroke="#aaa" stroke-width="1"/>
<clipPath id="cC"><rect x="0" y="1180" width="945" height="507.70000000000005"/></clipPath>
<g clip-path="url(#cC)">
<polyline points="271.9,1664 381.4,1609.1 490.6,1565.4 600.1,1527.7 709.5,1494.2 818.8,1464.2 928.7,1436.8" fill="none" stroke="#6a80b2" stroke-width="4.9" stroke-linejoin="round"/>
<polyline points="271.9,1442.5 381.4,1388 490.6,1344.7 600.1,1306.5 709.5,1274.9 818.8,1245.8 928.7,1220" fill="none" stroke="#d09b36" stroke-width="4.9" stroke-linejoin="round"/>
<path d="M271.9 1640.1L304.5 1669.2L271.9 1698.3L239.3 1669.2Z" fill="#d90000"/>
<path d="M381.4 1585.2L414 1614.3L381.4 1643.4L348.8 1614.3Z" fill="#d90000"/>
<path d="M490.6 1541.5L523.2 1570.6L490.6 1599.7L458 1570.6Z" fill="#d90000"/>
<path d="M600.1 1503.8L632.7 1532.9L600.1 1562L567.5 1532.9Z" fill="#d90000"/>
<path d="M709.5 1470.3L742.1 1499.4L709.5 1528.5L676.9 1499.4Z" fill="#d90000"/>
<path d="M818.8 1440.3L851.4 1469.4L818.8 1498.5L786.2 1469.4Z" fill="#d90000"/>
<path d="M928.7 1412.9L961.3 1442L928.7 1471.1L896.1 1442Z" fill="#d90000"/>
<circle cx="271.9" cy="1445.2" r="20.9" fill="#8ffe3c"/>
<circle cx="381.4" cy="1390.7" r="20.9" fill="#8ffe3c"/>
<circle cx="490.6" cy="1347.4" r="20.9" fill="#8ffe3c"/>
<circle cx="600.1" cy="1309.2" r="20.9" fill="#8ffe3c"/>
<circle cx="709.5" cy="1277.6" r="20.9" fill="#8ffe3c"/>
<circle cx="818.8" cy="1248.5" r="20.9" fill="#8ffe3c"/>
<circle cx="928.7" cy="1222.7" r="20.9" fill="#8ffe3c"/>
</g>
<text x="2.02" y="39.6" font-size="43.3" font-weight="bold">A</text>
<text x="-0.84" y="631" font-size="42.5" font-weight="bold">B</text>
<text x="0.67" y="1245.6" font-size="42.3" font-weight="bold">C</text>
<text transform="translate(195.88 114.2) scale(1 1.04)" font-size="33.1" font-style="italic">R</text>
<clipPath id="f7"><path clip-rule="evenodd" d="M-5 -35.28H21.35V14.7H-5ZM1.04 -3.2H7.11V1.5H1.04ZM10.28 -3.2H16.12V1.5H10.28Z"/></clipPath>
<text transform="translate(219.56 121.8) scale(1 0.94)" font-size="29.4" clip-path="url(#f7)">1</text>
<text transform="translate(244.58 105.9) scale(1 0.858) translate(0 10.89)" font-size="33.1">=</text>
<clipPath id="f8"><path clip-rule="evenodd" d="M-5 -39.72H437.45V16.55H-5ZM28.93 -3.47H35.61V1.5H28.93ZM39.18 -3.47H45.6V1.5H39.18ZM194.54 -3.47H201.22V1.5H194.54ZM204.79 -3.47H211.21V1.5H204.79ZM258.95 -3.47H265.62V1.5H258.95ZM269.2 -3.47H275.62V1.5H269.2ZM350.96 -3.47H357.64V1.5H350.96ZM361.21 -3.47H367.63V1.5H361.21Z"/></clipPath>
<text transform="translate(270.91 114.2) scale(1 1.04)" font-size="33.1" clip-path="url(#f8)">0.1, 0.5, 0.9, 1.3, 1.7, 2.1, 2.5</text>
<text transform="translate(195.37 185.4) scale(1 1.04)" font-size="33.1">−</text>
<text transform="translate(216.47 182.4) scale(1 1.04)" font-size="33.1" font-style="italic">C</text>
<text transform="translate(239.58 188.7) scale(1 0.94)" font-size="29.4">fx</text>
<text transform="translate(270.68 182.4) scale(1 1.04)" font-size="33.1" font-style="italic">R</text>
<text transform="translate(293.15 188.7) scale(1 0.94)" font-size="29.4">ex</text>
<clipPath id="f9"><path clip-rule="evenodd" d="M-5 -35.28H45.87V14.7H-5ZM1.04 -3.2H7.11V1.5H1.04ZM10.28 -3.2H16.12V1.5H10.28Z"/></clipPath>
<text transform="translate(327.46 168.3) scale(1 0.94)" font-size="29.4" clip-path="url(#f9)">1/2</text>
<text transform="translate(377.59 182.4) scale(1 1.04)" font-size="32.6">varies vertically</text>
<text transform="translate(343.35 692.6) scale(1 1.04)" font-size="34.2" font-style="italic">γ</text>
<clipPath id="f10"><path clip-rule="evenodd" d="M-5 -36.48H21.91V15.2H-5ZM1.12 -3.27H7.35V1.5H1.12ZM10.63 -3.27H16.62V1.5H10.63Z"/></clipPath>
<text transform="translate(361.48 700) scale(1 0.94)" font-size="30.4" clip-path="url(#f10)">1</text>
<text transform="translate(386.93 683.6) scale(1 0.830) translate(0 11.26)" font-size="34.2">=</text>
<clipPath id="f11"><path clip-rule="evenodd" d="M-5 -41.04H451.82V17.1H-5ZM29.93 -3.55H36.79V1.5H29.93ZM40.48 -3.55H47.07V1.5H40.48ZM201.04 -3.55H207.91V1.5H201.04ZM211.6 -3.55H218.19V1.5H211.6ZM267.59 -3.55H274.45V1.5H267.59ZM278.14 -3.55H284.74V1.5H278.14ZM362.66 -3.55H369.52V1.5H362.66ZM373.21 -3.55H379.8V1.5H373.21Z"/></clipPath>
<text transform="translate(414.36 692.6) scale(1 1.04)" font-size="34.2" clip-path="url(#f11)">0.1, 0.5, 0.9, 1.3, 1.7, 2.1, 2.5</text>
<text transform="translate(377.21 768.1) scale(1 1.04)" font-size="34.2">−</text>
<text transform="translate(397.41 765.8) scale(1 1.04)" font-size="34.2" font-style="italic">C</text>
<text transform="translate(423.17 772.6) scale(1 0.94)" font-size="30.4">fx</text>
<text transform="translate(455.35 765.8) scale(1 1.04)" font-size="34.2" font-style="italic">R</text>
<text transform="translate(477.31 772.6) scale(1 0.94)" font-size="30.4">ex</text>
<clipPath id="f12"><path clip-rule="evenodd" d="M-5 -36.48H47.26V15.2H-5ZM1.12 -3.27H7.35V1.5H1.12ZM10.63 -3.27H16.62V1.5H10.63Z"/></clipPath>
<text transform="translate(514.78 751.2) scale(1 0.94)" font-size="30.4" clip-path="url(#f12)">1/2</text>
<text transform="translate(566.68 765.8) scale(1 1.04)" font-size="33.66">varies vertically</text>
<text transform="translate(196.95 1260.5) scale(1 1.04)" font-size="33.4" font-style="italic">S</text>
<clipPath id="f13"><path clip-rule="evenodd" d="M-5 -34.32H20.91V14.3H-5ZM0.98 -3.14H6.91V1.5H0.98ZM10 -3.14H15.71V1.5H10Z"/></clipPath>
<text transform="translate(217.82 1268.2) scale(1 0.94)" font-size="28.6" clip-path="url(#f13)">1</text>
<text transform="translate(242.67 1252) scale(1 0.850) translate(0 10.99)" font-size="33.4">=</text>
<clipPath id="f14"><path clip-rule="evenodd" d="M-5 -40.08H441.37V16.7H-5ZM29.2 -3.5H35.93V1.5H29.2ZM39.53 -3.5H46V1.5H39.53ZM196.31 -3.5H203.04V1.5H196.31ZM206.65 -3.5H213.11V1.5H206.65ZM261.3 -3.5H268.03V1.5H261.3ZM271.64 -3.5H278.1V1.5H271.64ZM354.15 -3.5H360.88V1.5H354.15ZM364.48 -3.5H370.95V1.5H364.48Z"/></clipPath>
<text transform="translate(268.7 1260.5) scale(1 1.04)" font-size="33.4" clip-path="url(#f14)">0.1, 0.5, 0.9, 1.3, 1.7, 2.1, 2.5</text>
<text transform="translate(199.75 1307.8) scale(1 1.04)" font-size="33.4">−</text>
<text transform="translate(221.06 1304.6) scale(1 1.04)" font-size="33.4" font-style="italic">C</text>
<text transform="translate(245.3 1312.6) scale(1 0.94)" font-size="28.6">fx</text>
<text transform="translate(275.37 1304.6) scale(1 1.04)" font-size="33.4" font-style="italic">R</text>
<text transform="translate(298.79 1312.6) scale(1 0.94)" font-size="28.6">ex</text>
<clipPath id="f15"><path clip-rule="evenodd" d="M-5 -34.32H44.76V14.3H-5ZM0.98 -3.14H6.91V1.5H0.98ZM10 -3.14H15.71V1.5H10Z"/></clipPath>
<text transform="translate(333.52 1291.2) scale(1 0.94)" font-size="28.6" clip-path="url(#f15)">1/2</text>
<text transform="translate(381.29 1304.6) scale(1 1.04)" font-size="32.9">varies vertically</text>
<line x1="995" y1="226" x2="1093.3" y2="226" stroke="#6a80b2" stroke-width="5"/>
<path d="M1043.5 203.8L1075.8 232.3L1043.5 260.8L1011.2 232.3Z" fill="#6a80b2"/>
<text transform="translate(1115.15 238.6) scale(1 1.04)" font-size="42.7">(MgZn</text>
<text transform="translate(1237.8 249) scale(1 0.96)" font-size="29.5">6</text>
<text transform="translate(1256.74 238.6) scale(1 1.04)" font-size="42.7">Zr)</text>
<text transform="translate(1313.4 238.6) scale(1 1.04)" font-size="42.7">/</text>
<text transform="translate(1327.34 238.6) scale(1 1.04)" font-size="42.7" font-style="italic">C</text>
<text transform="translate(1356.22 246) scale(1 0.96)" font-size="29.5">8</text>
<text transform="translate(1376.29 238.6) scale(1 1.04)" font-size="42.7" font-style="italic">H</text>
<clipPath id="f16"><path clip-rule="evenodd" d="M-5 -35.4H37.81V14.75H-5ZM1.05 -3.2H7.13V1.5H1.05ZM10.31 -3.2H16.17V1.5H10.31Z"/></clipPath>
<text transform="translate(1406.95 246) scale(1 0.96)" font-size="29.5" clip-path="url(#f16)">18</text>
<line x1="995" y1="342.4" x2="1093.3" y2="342.4" stroke="#d09b36" stroke-width="5"/>
<circle cx="1043.8" cy="346.2" r="20.8" fill="#d09b36"/>
<text transform="translate(1114.9 354.9) scale(1 1.04)" font-size="42.7">Regular fluid</text>
<line x1="1003.7" y1="819.8" x2="1104.9" y2="819.8" stroke="#6a80b2" stroke-width="5"/>
<path d="M1054.3 797L1087.5 826.4L1054.3 855.8L1021.1 826.4Z" fill="#6a80b2"/>
<text transform="translate(1127.96 832.9) scale(1 1.04)" font-size="44.2">(MgZn</text>
<text transform="translate(1254.96 843.67) scale(1 0.96)" font-size="30.5">6</text>
<text transform="translate(1274.58 832.9) scale(1 1.04)" font-size="44.2">Zr)</text>
<text transform="translate(1333.24 832.9) scale(1 1.04)" font-size="44.2">/</text>
<text transform="translate(1347.68 832.9) scale(1 1.04)" font-size="44.2" font-style="italic">C</text>
<text transform="translate(1377.58 840.56) scale(1 0.96)" font-size="30.5">8</text>
<text transform="translate(1398.36 832.9) scale(1 1.04)" font-size="44.2" font-style="italic">H</text>
<clipPath id="f17"><path clip-rule="evenodd" d="M-5 -36.6H38.93V15.25H-5ZM1.12 -3.28H7.37V1.5H1.12ZM10.66 -3.28H16.67V1.5H10.66Z"/></clipPath>
<text transform="translate(1430.12 840.56) scale(1 0.96)" font-size="30.5" clip-path="url(#f17)">18</text>
<line x1="1003.7" y1="940" x2="1104.9" y2="940" stroke="#d09b36" stroke-width="5"/>
<circle cx="1054.3" cy="944.2" r="21.3" fill="#d09b36"/>
<text transform="translate(1127.37 953) scale(1 1.04)" font-size="44.2">Regular fluid</text>
<line x1="996.7" y1="1416" x2="1095" y2="1416" stroke="#6a80b2" stroke-width="5"/>
<path d="M1045.7 1394L1077.9 1422.5L1045.7 1451L1013.5 1422.5Z" fill="#6a80b2"/>
<text transform="translate(1116.64 1429.9) scale(1 1.04)" font-size="42.9">(MgZn</text>
<text transform="translate(1240.02 1440.36) scale(1 0.96)" font-size="29.7">6</text>
<text transform="translate(1259.08 1429.9) scale(1 1.04)" font-size="42.9">Zr)</text>
<text transform="translate(1316.07 1429.9) scale(1 1.04)" font-size="42.9">/</text>
<text transform="translate(1330.1 1429.9) scale(1 1.04)" font-size="42.9" font-style="italic">C</text>
<text transform="translate(1359.15 1437.34) scale(1 0.96)" font-size="29.7">8</text>
<text transform="translate(1379.34 1429.9) scale(1 1.04)" font-size="42.9" font-style="italic">H</text>
<clipPath id="f18"><path clip-rule="evenodd" d="M-5 -35.64H38.04V14.85H-5ZM1.06 -3.22H7.18V1.5H1.06ZM10.38 -3.22H16.27V1.5H10.38Z"/></clipPath>
<text transform="translate(1410.19 1437.34) scale(1 0.96)" font-size="29.7" clip-path="url(#f18)">18</text>
<line x1="996.7" y1="1533.3" x2="1095" y2="1533.3" stroke="#d09b36" stroke-width="5"/>
<circle cx="1045.7" cy="1535.7" r="20.6" fill="#d09b36"/>
<text transform="translate(1116.88 1546.1) scale(1 1.04)" font-size="42.9">Regular fluid</text>
</svg></body></html>
